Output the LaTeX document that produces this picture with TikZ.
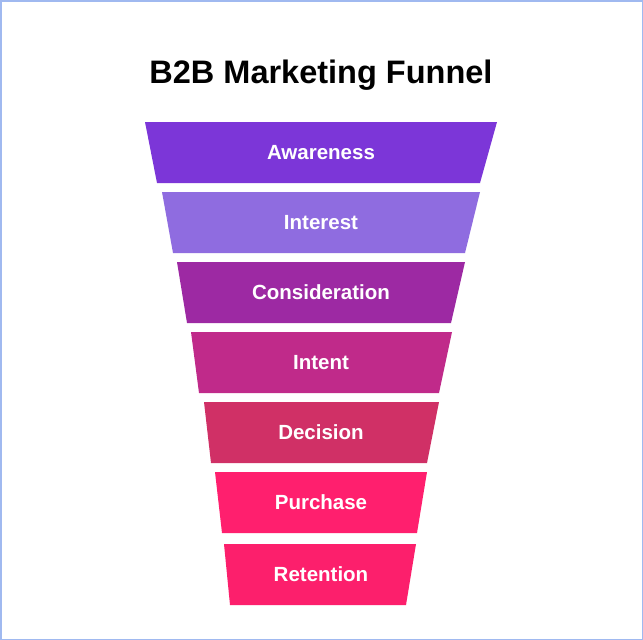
\documentclass[tikz,border=0pt]{standalone}
\usepackage{fontspec}
\setmainfont{Liberation Sans}
\usetikzlibrary{positioning}
\definecolor{framecol}{RGB}{160, 185, 240}
\definecolor{stawareness}{RGB}{124, 54, 216}
\definecolor{stinterest}{RGB}{143, 108, 224}
\definecolor{stconsider}{RGB}{157, 41, 163}
\definecolor{stintent}{RGB}{192, 42, 138}
\definecolor{stdecision}{RGB}{208, 48, 102}
\definecolor{stpurchase}{RGB}{255, 31, 110}
\definecolor{stretention}{RGB}{252, 31, 108}
\tikzset{
  layer/.style={draw=none},
  lbl/.style={text=white, inner sep=0pt, font=\fontsize{20.5}{23}\selectfont\bfseries},
  ttl/.style={text=black, inner sep=0pt, font=\fontsize{32.5}{36}\selectfont\bfseries},
}

\begin{document}
\begin{tikzpicture}[x=1pt, y=-1pt]
        % frame
        \fill[white] (0,0) rectangle (643,640);
        \draw[framecol, line width=1.5pt] (0.75,0.75) rectangle (642.25,639.25);

        % title
        \node[ttl] (title) at (321,75) {B2B Marketing Funnel};

        % funnel layers: top y / top left / top right / bottom left / bottom right
        \foreach \ty/\tl/\tr/\bl/\br/\col/\name/\txt in {
            122/145/497/157/480/stawareness/aware/Awareness,
            192/162/480/173/465/stinterest/interest/Interest,
            262/177/465/187/451/stconsider/consider/Consideration,
            332/191/452/199/439/stintent/intent/Intent,
            402/204/439/211/427/stdecision/decision/Decision,
            472/215/427/222/417/stpurchase/purchase/Purchase,
            544/224/416/230/406/stretention/retention/Retention}{
          \fill[layer, \col] (\tl,\ty) -- (\tr,\ty) -- (\br,\ty+61) -- (\bl,\ty+61) -- cycle;
          \node[lbl] (\name) at (321,\ty+30.5) {\txt};
        }
      \end{tikzpicture}
\end{document}
